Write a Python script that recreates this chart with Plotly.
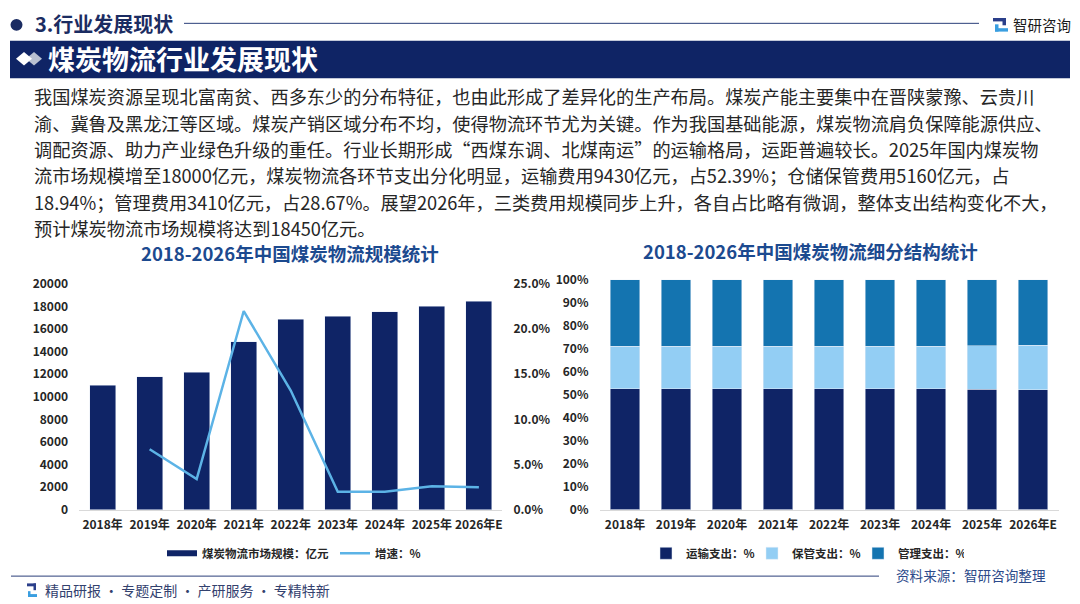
import plotly.graph_objects as go

# page is offset by the browser's 8px body margin, so the figure is sized to fill the rest
OFF = 8
W, H = 1080 - OFF, 604 - OFF

years = ['2018年', '2019年', '2020年', '2021年', '2022年', '2023年', '2024年', '2025年', '2026年E']
market_size = [11050, 11780, 12170, 14900, 16850, 17150, 17520, 18000, 18450]   # 亿元
growth_rate = [None, 6.7, 3.4, 22.0, 13.2, 2.0, 2.0, 2.6, 2.5]                # %

transport_share = [52.5, 52.5, 52.5, 52.5, 52.5, 52.5, 52.5, 52.39, 52.1]
storage_share = [18.5, 18.5, 18.5, 18.5, 18.5, 18.5, 18.5, 18.94, 19.3]
manage_share = [29.0, 29.0, 29.0, 29.0, 29.0, 29.0, 29.0, 28.67, 28.6]

left_ticks = list(range(0, 20001, 2000))
right_ticks = [0, 5, 10, 15, 20, 25]
share_ticks = list(range(0, 101, 10))

paragraph = [
    '我国煤炭资源呈现北富南贫、西多东少的分布特征，也由此形成了差异化的生产布局。煤炭产能主要集中在晋陕蒙豫、云贵川',
    '渝、冀鲁及黑龙江等区域。煤炭产销区域分布不均，使得物流环节尤为关键。作为我国基础能源，煤炭物流肩负保障能源供应、',
    '调配资源、助力产业绿色升级的重任。行业长期形成“西煤东调、北煤南运”的运输格局，运距普遍较长。2025年国内煤炭物',
    '流市场规模增至18000亿元，煤炭物流各环节支出分化明显，运输费用9430亿元，占52.39%；仓储保管费用5160亿元，占',
    '18.94%；管理费用3410亿元，占28.67%。展望2026年，三类费用规模同步上升，各自占比略有微调，整体支出结构变化不大，',
    '预计煤炭物流市场规模将达到18450亿元。',
]

NAVY = '#0f2466'
LIGHT = '#93cef4'
MID = '#1474b0'
LINE = '#5cb3e6'
TITLE = '#1c4a8f'
FONT = 'Noto Sans CJK SC'


def px(x):
    return (x - OFF) / W


def py(y):
    return 1 - (y - OFF) / H


tick_font = dict(family=FONT, size=12, color='#262626', weight='bold')

fig = go.Figure()

# left chart: market size bars + growth line
fig.add_bar(x=years, y=market_size, marker_color=NAVY, width=0.555,
            xaxis='x', yaxis='y', showlegend=False, name='煤炭物流市场规模：亿元')
fig.add_scatter(x=[None], y=[None], mode='lines', line=dict(color=NAVY, width=6),
                name='煤炭物流市场规模：亿元', legend='legend', xaxis='x', yaxis='y')
fig.add_scatter(x=years, y=growth_rate, mode='lines', line=dict(color=LINE, width=2.5),
                name='增速：%', legend='legend', xaxis='x', yaxis='y2')

# right chart: cost structure
fig.add_bar(x=years, y=transport_share, marker_color=NAVY, width=0.58, name='运输支出：%',
            xaxis='x2', yaxis='y3', legend='legend2')
fig.add_bar(x=years, y=storage_share, marker_color=LIGHT, width=0.58, name='保管支出：%',
            xaxis='x2', yaxis='y3', legend='legend2')
fig.add_bar(x=years, y=manage_share, marker_color=MID, width=0.58, name='管理支出：%',
            xaxis='x2', yaxis='y3', legend='legend2')


def rect(x0, y0, x1, y1, color):
    return dict(type='rect', x0=px(x0), x1=px(x1), y0=py(y1), y1=py(y0), fillcolor=color, line_width=0)


def diamond(cx, cy, color):
    p = f'M {px(cx - 8)},{py(cy)} L {px(cx)},{py(cy - 7)} L {px(cx + 8)},{py(cy)} L {px(cx)},{py(cy + 7)} Z'
    return dict(type='path', path=p, fillcolor=color, line_width=0)


shapes = [
    # header bullet + rule
    dict(type='circle', x0=px(10.5), x1=px(22.5), y0=py(21), y1=py(9), fillcolor='#1b2c62', line_width=0),
    dict(type='line', x0=px(184), x1=px(979), y0=py(13.5), y1=py(13.5), line=dict(color='#2b3f7a', width=1)),
    # banner
    rect(10, 31.5, 1070, 70, '#0f2465'),
    diamond(34, 50, '#b9c0d0'),
    diamond(24, 50, 'white'),
    # top right logo icon
    rect(993, 8, 1006, 11.5, '#2b3f8a'),
    rect(1002.5, 8, 1006, 15.5, '#2b3f8a'),
    rect(995, 18.5, 1008, 22, '#3a9ee0'),
    rect(995, 14.5, 998.5, 22, '#3a9ee0'),
    # footer rule
    dict(type='line', x0=px(11), x1=px(879), y0=py(582.5), y1=py(582.5), line=dict(color='#2b3f7a', width=1)),
    # bottom logo icon
    rect(27, 590, 36, 593, '#2b3f8a'),
    rect(33.5, 590, 36, 597, '#2b3f8a'),
    rect(28, 601, 37, 604, '#3a9ee0'),
    rect(28, 598, 30.5, 604, '#3a9ee0'),
]
for s in shapes:
    s.update(xref='paper', yref='paper', layer='above')

annotations = [
    dict(text='3.行业发展现状', x=px(33), y=py(14), font=dict(family=FONT, size=20, color='#1b2c62', weight='bold')),
    dict(text='智研咨询', x=px(1011), y=py(14.5), font=dict(family=FONT, size=14.5, color='#1a1a1a')),
    dict(text='煤炭物流行业发展现状', x=px(46), y=py(50), font=dict(family=FONT, size=27, color='white', weight='bold')),
    dict(text='2018-2026年中国煤炭物流规模统计', x=px(290), y=py(250), xanchor='center',
         font=dict(family=FONT, size=18.5, color=TITLE, weight='bold')),
    dict(text='2018-2026年中国煤炭物流细分结构统计', x=px(810), y=py(248), xanchor='center',
         font=dict(family=FONT, size=18.5, color=TITLE, weight='bold')),
    dict(text='资料来源：智研咨询整理', x=px(894), y=py(581.5), font=dict(family=FONT, size=13.6, color='#2c4a8a')),
    dict(text='精品研报 · 专题定制 · 产研服务 · 专精特新', x=px(43), y=py(597),
         font=dict(family=FONT, size=14, color='#33416e')),
]
for i, line in enumerate(paragraph):
    annotations.append(dict(text=line, x=px(32), y=py(88.5 + i * 27.2),
                            font=dict(family=FONT, size=18.2, color='#262626')))
for a in annotations:
    a.setdefault('xanchor', 'left')
    a.update(xref='paper', yref='paper', yanchor='middle', showarrow=False)

legend_font = dict(family=FONT, size=11.5, color='#262626', weight='bold')

fig.update_layout(
    width=W, height=H, autosize=False,
    margin=dict(l=0, r=0, t=0, b=0),
    paper_bgcolor='white', plot_bgcolor='white',
    barmode='stack',
    font=dict(family=FONT, color='#262626'),
    shapes=shapes, annotations=annotations,
    xaxis=dict(domain=[px(79.1), px(502.4)], anchor='y', showline=True, linecolor='#d9d9d9',
               showgrid=False, ticks='', tickfont=tick_font, ticklabelstandoff=4),
    yaxis=dict(domain=[py(514.3), py(281.7)], range=[0, 20000], tickvals=left_ticks,
               ticktext=[str(v) for v in left_ticks], showgrid=False, zeroline=False,
               showline=False, tickfont=tick_font, ticklabelstandoff=10),
    yaxis2=dict(overlaying='y', side='right', anchor='x', range=[0, 25], tickvals=right_ticks,
                ticktext=[f'{v:.1f}%' for v in right_ticks], showgrid=False, zeroline=False,
                tickfont=tick_font, ticklabelstandoff=10),
    xaxis2=dict(domain=[px(599.5), px(1058.6)], anchor='y3', showline=True, linecolor='#d9d9d9',
                showgrid=False, ticks='', tickfont=tick_font, ticklabelstandoff=4),
    yaxis3=dict(domain=[py(514), py(277.3)], anchor='x2', range=[0, 100], tickvals=share_ticks,
                ticktext=[f'{v}%' for v in share_ticks], showgrid=False, zeroline=False,
                tickfont=tick_font, ticklabelstandoff=10),
    legend=dict(orientation='h', x=px(162), y=py(559), xanchor='left', yanchor='middle',
                font=legend_font, entrywidth=128, entrywidthmode='pixels',
                bgcolor='rgba(0,0,0,0)', traceorder='normal'),
    legend2=dict(orientation='h', x=px(646), y=py(559), xanchor='left', yanchor='middle',
                 font=legend_font, entrywidth=61, entrywidthmode='pixels',
                 bgcolor='rgba(0,0,0,0)', traceorder='normal'),
)

fig.write_html('out.html')
